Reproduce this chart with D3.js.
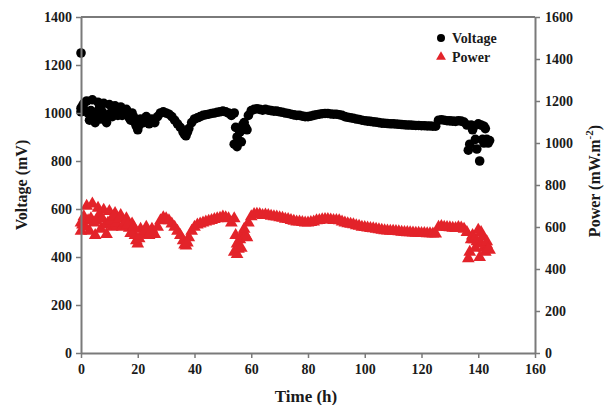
<!DOCTYPE html>
<html>
<head>
<meta charset="utf-8">
<script src="https://cdn.jsdelivr.net/npm/d3@7"></script>
<style>
  html, body { margin: 0; padding: 0; background: #fff; }
  svg { display: block; }
  text { font-family: "Liberation Serif", "Times New Roman", serif; font-weight: bold; fill: #1a1a1a; }
</style>
</head>
<body>
<svg id="chart" width="608" height="405"></svg>
<script>
// ---- data ----
const xTicks = [0, 20, 40, 60, 80, 100, 120, 140, 160];
const voltageTicks = [0, 200, 400, 600, 800, 1000, 1200, 1400];
const powerTicks = [0, 200, 400, 600, 800, 1000, 1200, 1400, 1600];

// hourly readings, t = 0 .. 144 h
const voltageHourly = [
  1020, 1040, 1050, 970, 1055, 960, 1045, 975, 1040, 960,
  1035, 985, 1030, 990, 1025, 995, 1015, 980, 1000, 960,
  930, 975, 960, 985, 955, 975, 960, 985, 1000, 1005,
  1000, 995, 985, 970, 955, 940, 920, 905, 935, 960,
  975, 980, 985, 990, 993, 995, 998, 1000, 1003, 1005,
  1008, 1005, 1000, 990, 870, 860, 920, 950, 940, 990,
  1010, 1015, 1018, 1015, 1012, 1015, 1012, 1010, 1008, 1008,
  1005, 1003, 1000, 998, 995, 992, 990, 990, 987, 985,
  985, 987, 990, 993, 995, 997, 998, 998, 996, 995,
  995, 993, 990, 985, 982, 980, 978, 975, 973, 970,
  968, 966, 965, 963, 962, 960, 958, 957, 956, 955,
  955, 954, 953, 952, 951, 950, 950, 949, 948, 948,
  947, 947, 946, 946, 945, 945, 970, 972, 970, 968,
  967, 966, 965, 968, 966, 962, 950, 870, 930, 890,
  955, 950, 875, 890, 885
];
const powerHourly = [
  580, 650, 700, 580, 710, 560, 690, 590, 680, 565,
  675, 600, 665, 605, 655, 610, 640, 595, 615, 560,
  520, 590, 565, 600, 560, 590, 565, 600, 630, 645,
  640, 630, 615, 600, 580, 560, 535, 510, 550, 580,
  600, 610, 615, 620, 625, 628, 632, 636, 640, 643,
  648, 645, 640, 620, 480, 470, 540, 570, 560, 620,
  650, 660, 662, 660, 655, 658, 655, 652, 650, 648,
  645, 642, 638, 636, 632, 628, 625, 625, 622, 620,
  620, 622, 625, 630, 632, 635, 636, 636, 634, 632,
  632, 630, 625, 620, 616, 614, 611, 607, 604, 600,
  598, 596, 594, 592, 590, 588, 585, 583, 582, 580,
  580, 579, 578, 576, 575, 574, 573, 572, 571, 571,
  570, 570, 569, 569, 568, 568, 600, 603, 600, 598,
  597, 595, 594, 598, 596, 590, 575, 480, 560, 500,
  585, 575, 500, 515, 490
];
// additional (half-hour) readings
const voltageExtraTime = [0, 0, 0.5, 1.5, 2.5, 3.5, 4.5, 5.5, 6.5, 7.5, 8.5, 9.5, 10.5, 11.5, 12.5, 13.5, 14.5, 15.5, 16.5, 17.5, 18.5, 19.5, 20.5, 22.5, 24.5, 36.5, 37.5,
  54, 54.5, 55, 55.5, 56.5, 57.5, 58.5, 136.5, 137.5, 138.5, 139.5, 140.5, 141.5, 142, 142.5, 143.5];
const voltageExtra     = [1250, 1005, 1030, 1010, 1000, 1010, 995, 1000, 1020, 1005, 990, 990, 1000, 1010, 1000, 1010, 990, 1000, 995, 970, 985, 945, 950, 970, 965, 910, 920,
  1000, 940, 900, 880, 880, 960, 930, 845, 950, 945, 850, 800, 890, 945, 935, 875];
const powerExtraTime   = [0, 0.5, 1.5, 2.5, 3.5, 4.5, 5.5, 6.5, 7.5, 8.5, 9.5, 10.5, 11.5, 12.5, 13.5, 14.5, 15.5, 16.5, 17.5, 18.5, 19.5, 20.5, 22.5, 24.5, 36.5, 37.5,
  54, 54.5, 55, 55.5, 56.5, 57.5, 58.5, 136.5, 137.5, 138, 138.5, 139.5, 140.5, 141, 141.5, 142.5, 143, 143.5];
const powerExtra       = [620, 610, 600, 630, 640, 620, 630, 660, 640, 610, 620, 630, 650, 620, 640, 600, 620, 610, 570, 600, 535, 545, 580, 575, 515, 525,
  640, 560, 520, 495, 500, 590, 550, 450, 540, 555, 540, 530, 455, 520, 555, 480, 530, 495];

// ---- layout ----
const svg = d3.select("#chart");
const L = 81, R = 535, T = 17, B = 353;
const x = d3.scaleLinear().domain([0, 160]).range([L, R]);
const yV = d3.scaleLinear().domain([0, 1400]).range([B, T]);
const yP = d3.scaleLinear().domain([0, 1600]).range([B, T]);
const axisColor = "#7a7a7a";

const vData = voltageHourly.map((v, i) => ({ t: i, v }))
  .concat(voltageExtra.map((v, i) => ({ t: voltageExtraTime[i], v })));
const pData = powerHourly.map((v, i) => ({ t: i, v }))
  .concat(powerExtra.map((v, i) => ({ t: powerExtraTime[i], v })));

// marks
svg.append("g").selectAll("circle").data(vData).join("circle")
  .attr("cx", d => x(d.t)).attr("cy", d => yV(d.v)).attr("r", 4.8)
  .attr("fill", "#000");

const tri = d3.symbol().type(d3.symbolTriangle).size(70);
svg.append("g").selectAll("path").data(pData).join("path")
  .attr("d", tri)
  .attr("transform", d => `translate(${x(d.t)},${yP(d.v)})`)
  .attr("fill", "#e3232a");

// axes
const fmt = d3.format("d");
function styleAxis(g) {
  g.select(".domain").attr("stroke", axisColor).attr("stroke-width", 2);
  g.selectAll(".tick line").attr("stroke", axisColor).attr("stroke-width", 1.5);
  g.selectAll(".tick text").style("font-size", "14px").attr("fill", "#1a1a1a");
}
svg.append("g").attr("transform", `translate(0,${B})`)
  .call(d3.axisBottom(x).tickValues(xTicks).tickFormat(fmt).tickSize(5).tickPadding(6).tickSizeOuter(0))
  .call(styleAxis);
svg.append("g").attr("transform", `translate(${L},0)`)
  .call(d3.axisLeft(yV).tickValues(voltageTicks).tickFormat(fmt).tickSize(5).tickPadding(4).tickSizeOuter(0))
  .call(styleAxis);
svg.append("g").attr("transform", `translate(${R},0)`)
  .call(d3.axisRight(yP).tickValues(powerTicks).tickFormat(fmt).tickSize(5).tickPadding(5).tickSizeOuter(0))
  .call(styleAxis);
// top frame line
svg.append("line").attr("x1", L).attr("x2", R).attr("y1", T).attr("y2", T)
  .attr("stroke", axisColor).attr("stroke-width", 2);

// axis titles
svg.append("text").attr("x", (L + R) / 2 - 2).attr("y", 402)
  .attr("text-anchor", "middle").style("font-size", "17px").text("Time (h)");
svg.append("text").attr("transform", `translate(27,${(T + B) / 2}) rotate(-90)`)
  .attr("text-anchor", "middle").style("font-size", "16px").text("Voltage (mV)");
const pt = svg.append("text").attr("transform", `translate(600,${(T + B) / 2 - 4}) rotate(-90)`)
  .attr("text-anchor", "middle").style("font-size", "16px");
pt.append("tspan").text("Power (mW.m");
pt.append("tspan").attr("dy", -7).style("font-size", "11px").text("-2");
pt.append("tspan").attr("dy", 7).text(")");

// legend
const lg = svg.append("g");
lg.append("circle").attr("cx", 441).attr("cy", 38).attr("r", 4).attr("fill", "#000");
lg.append("text").attr("x", 452).attr("y", 43).style("font-size", "14px").text("Voltage");
lg.append("path").attr("d", d3.symbol().type(d3.symbolTriangle).size(42)).attr("transform", "translate(441,57)").attr("fill", "#e3232a");
lg.append("text").attr("x", 452).attr("y", 62).style("font-size", "14px").text("Power");
</script>
</body>
</html>
